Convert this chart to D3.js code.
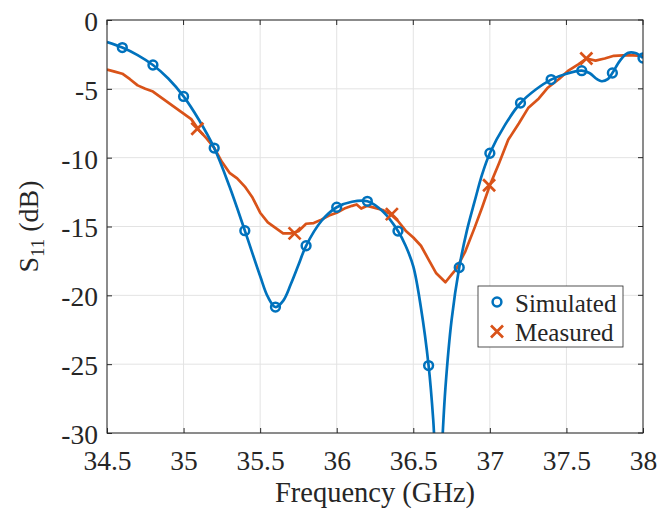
<!DOCTYPE html>
<html lang="en">
<head>
  <meta charset="UTF-8">
  <title>S11 simulated vs measured</title>
  <script src="https://d3js.org/d3.v7.min.js" charset="utf-8"></script>
</head>
<body style="margin:0;background:#fff">
<div id="chart"></div>

<style>
text {
  font-family: "Liberation Serif", "Times New Roman", serif;
  fill: #262626;
}
</style>

<script>

// simulated S11 (dB)
var simFreq = [34.5, 34.6, 34.7, 34.8, 34.9, 35.0, 35.1, 35.2, 35.3, 35.4, 35.5, 35.55, 35.6, 35.65, 35.7, 35.75,
  35.8, 35.9, 36.0, 36.1, 36.2, 36.3, 36.4, 36.45, 36.5, 36.55, 36.6, 36.63, 36.65, 36.67, 36.69, 36.71,
  36.75, 36.8, 36.85, 36.9, 36.95, 37.0, 37.1, 37.2, 37.3, 37.4, 37.5, 37.6, 37.65, 37.7, 37.73, 37.77,
  37.8, 37.85, 37.9, 37.95, 38.0];
var simS11 = [-1.6, -2.0, -2.55, -3.27, -4.25, -5.55, -7.25, -9.3, -12.1, -15.3, -18.6, -20.1, -20.85, -20.4, -19.2, -17.8,
  -16.4, -14.6, -13.6, -13.2, -13.17, -13.9, -15.33, -16.4, -17.9, -20.9, -25.1, -29, -33, -35, -30.5, -26.7,
  -21.8, -17.98, -15.3, -13.2, -11.2, -9.68, -7.6, -6.03, -5.05, -4.33, -3.9, -3.68, -3.85, -4.3, -4.45, -4.3,
  -3.85, -2.95, -2.4, -2.4, -2.76];
var simMarkers = [34.6, 34.8, 35.0, 35.2, 35.4, 35.6, 35.8, 36.0, 36.2, 36.4, 36.6, 36.8, 37.0, 37.2, 37.4, 37.6, 37.8, 38.0];

// measured S11 (dB)
var measFreq = [34.5, 34.55, 34.6, 34.65, 34.7, 34.75, 34.8, 34.85, 34.9, 34.95, 35.0, 35.05, 35.1, 35.15, 35.2, 35.25,
  35.3, 35.35, 35.4, 35.45, 35.5, 35.55, 35.6, 35.65, 35.7, 35.75, 35.8, 35.85, 35.9, 35.95, 36.0, 36.05,
  36.1, 36.13, 36.16, 36.2, 36.25, 36.3, 36.35, 36.4, 36.45, 36.5, 36.55, 36.6, 36.65, 36.71, 36.75, 36.78,
  36.84, 36.9, 36.95, 37.0, 37.06, 37.12, 37.19, 37.25, 37.32, 37.38, 37.45, 37.51, 37.58, 37.63, 37.69, 37.75,
  37.81, 37.9, 38.0];
var measS11 = [-3.6, -3.75, -3.9, -4.3, -4.75, -5.0, -5.2, -5.6, -6.0, -6.4, -6.8, -7.2, -8.0, -8.6, -9.3, -10.3,
  -11.1, -11.5, -12.1, -12.9, -14.0, -14.7, -15.1, -15.5, -15.5, -15.35, -14.8, -14.75, -14.5, -14.2, -14.0, -13.7,
  -13.5, -13.4, -13.7, -13.5, -13.65, -13.8, -14.1, -14.6, -15.3, -15.8, -16.4, -17.4, -18.4, -19.05, -18.5, -18.1,
  -16.8, -15.1, -13.6, -12.0, -10.4, -8.7, -7.5, -6.4, -5.7, -4.9, -4.3, -3.7, -3.2, -2.8, -2.95, -2.8,
  -2.6, -2.55, -2.6];
var measMarkFreq = [35.09, 35.725, 36.36, 36.995, 37.63];
var measMarkS11 = [-7.9, -15.5, -14.1, -12.0, -2.8];

var xTicks = [34.5, 35, 35.5, 36, 36.5, 37, 37.5, 38];
var yTicks = [0, -5, -10, -15, -20, -25, -30];

var blue = "#0072BD", orange = "#D95319";

var W = 661, H = 512;
var margin = ({top: 20, right: 18, bottom: 79, left: 107});

var svg = d3.select('#chart').append('svg')
  .attr("width", W)
  .attr("height", H);

var x = d3.scaleLinear()
  .domain([34.5, 38])
  .range([margin.left, W - margin.right]);

var y = d3.scaleLinear()
  .domain([-30, 0])
  .range([H - margin.bottom, margin.top]);

var simData = simFreq.map((f, i) => ({f: f, v: simS11[i]}));
var measData = measFreq.map((f, i) => ({f: f, v: measS11[i]}));

// grid
svg.append("g")
  .selectAll("line")
  .data(xTicks)
  .join("line")
    .attr("x1", d => x(d)).attr("x2", d => x(d))
    .attr("y1", y(-30)).attr("y2", y(0))
    .attr("stroke", "#e3e3e3").attr("stroke-width", 1);
svg.append("g")
  .selectAll("line")
  .data(yTicks)
  .join("line")
    .attr("y1", d => y(d)).attr("y2", d => y(d))
    .attr("x1", x(34.5)).attr("x2", x(38))
    .attr("stroke", "#e3e3e3").attr("stroke-width", 1);

svg.append("clipPath").attr("id", "clip")
  .append("rect")
    .attr("x", x(34.5)).attr("y", y(0))
    .attr("width", x(38) - x(34.5)).attr("height", y(-30) - y(0));

var plot = svg.append("g").attr("clip-path", "url(#clip)");

var line = d3.line()
  .x(d => x(d.f))
  .y(d => y(d.v));

plot.append("path")
  .datum(measData)
  .attr("fill", "none")
  .attr("stroke", orange)
  .attr("stroke-width", 2.7)
  .attr("stroke-linejoin", "round")
  .attr("d", line.curve(d3.curveLinear));

plot.append("path")
  .datum(simData)
  .attr("fill", "none")
  .attr("stroke", blue)
  .attr("stroke-width", 2.7)
  .attr("d", line.curve(d3.curveCatmullRom));

// markers
var simLookup = new Map(simData.map(d => [d.f, d.v]));
plot.selectAll("circle")
  .data(simMarkers)
  .join("circle")
    .attr("cx", d => x(d))
    .attr("cy", d => y(simLookup.get(d)))
    .attr("r", 4.4)
    .attr("fill", "none")
    .attr("stroke", blue)
    .attr("stroke-width", 2.5);

function cross(g, cx, cy, s) {
  g.append("path")
    .attr("d", "M" + (cx - s) + "," + (cy - s) + "L" + (cx + s) + "," + (cy + s) +
               "M" + (cx - s) + "," + (cy + s) + "L" + (cx + s) + "," + (cy - s))
    .attr("stroke", orange)
    .attr("stroke-width", 2.7);
}
measMarkFreq.forEach((f, i) => cross(plot, x(f), y(measMarkS11[i]), 6));

// axes box
svg.append("rect")
  .attr("x", x(34.5)).attr("y", y(0))
  .attr("width", x(38) - x(34.5)).attr("height", y(-30) - y(0))
  .attr("fill", "none")
  .attr("stroke", "#262626")
  .attr("stroke-width", 1);

var fmt = d => String(d);

var xAxis = svg.append("g")
  .attr("transform", "translate(0," + y(-30) + ")")
  .call(d3.axisBottom(x).tickValues(xTicks).tickSize(-5).tickPadding(17).tickFormat(fmt))
  .call(g => g.select(".domain").remove());
xAxis.selectAll("line").attr("stroke", "#262626");
xAxis.selectAll("text").attr("font-size", 27.5).attr("font-family", "Liberation Serif").attr("fill", "#262626");

var yAxis = svg.append("g")
  .attr("transform", "translate(" + x(34.5) + ",0)")
  .call(d3.axisLeft(y).tickValues(yTicks).tickSize(-5).tickPadding(9).tickFormat(fmt))
  .call(g => g.select(".domain").remove());
yAxis.selectAll("line").attr("stroke", "#262626");
yAxis.selectAll("text").attr("font-size", 27.5).attr("font-family", "Liberation Serif").attr("fill", "#262626")
  .attr("dy", "0.38em");

// top/right ticks
svg.append("g").selectAll("line")
  .data(xTicks).join("line")
  .attr("x1", d => x(d)).attr("x2", d => x(d))
  .attr("y1", y(0)).attr("y2", y(0) + 5)
  .attr("stroke", "#262626");
svg.append("g").selectAll("line")
  .data(yTicks).join("line")
  .attr("y1", d => y(d)).attr("y2", d => y(d))
  .attr("x1", x(38)).attr("x2", x(38) - 5)
  .attr("stroke", "#262626");

// axis titles
svg.append("text")
  .attr("x", (x(34.5) + x(38)) / 2)
  .attr("y", 502)
  .attr("text-anchor", "middle")
  .attr("font-size", 28.5)
  .text("Frequency (GHz)");

var yl = svg.append("text")
  .attr("transform", "translate(38," + ((y(0) + y(-30)) / 2) + ") rotate(-90)")
  .attr("text-anchor", "middle")
  .attr("font-size", 28);
yl.append("tspan").text("S");
yl.append("tspan").attr("font-size", 19).attr("dy", 6).text("11");
yl.append("tspan").attr("dy", -6).text(" (dB)");

// legend
var lg = svg.append("g").attr("transform", "translate(478,286)");
lg.append("rect")
  .attr("width", 145).attr("height", 61)
  .attr("fill", "white")
  .attr("stroke", "#262626")
  .attr("stroke-width", 0.8);
lg.append("circle")
  .attr("cx", 19).attr("cy", 16).attr("r", 4.4)
  .attr("fill", "none").attr("stroke", blue).attr("stroke-width", 2.5);
cross(lg, 19, 45.5, 6);
lg.append("text").attr("x", 37).attr("y", 26).attr("font-size", 25).text("Simulated");
lg.append("text").attr("x", 37).attr("y", 55).attr("font-size", 25).text("Measured");

</script>
</body>
</html>
